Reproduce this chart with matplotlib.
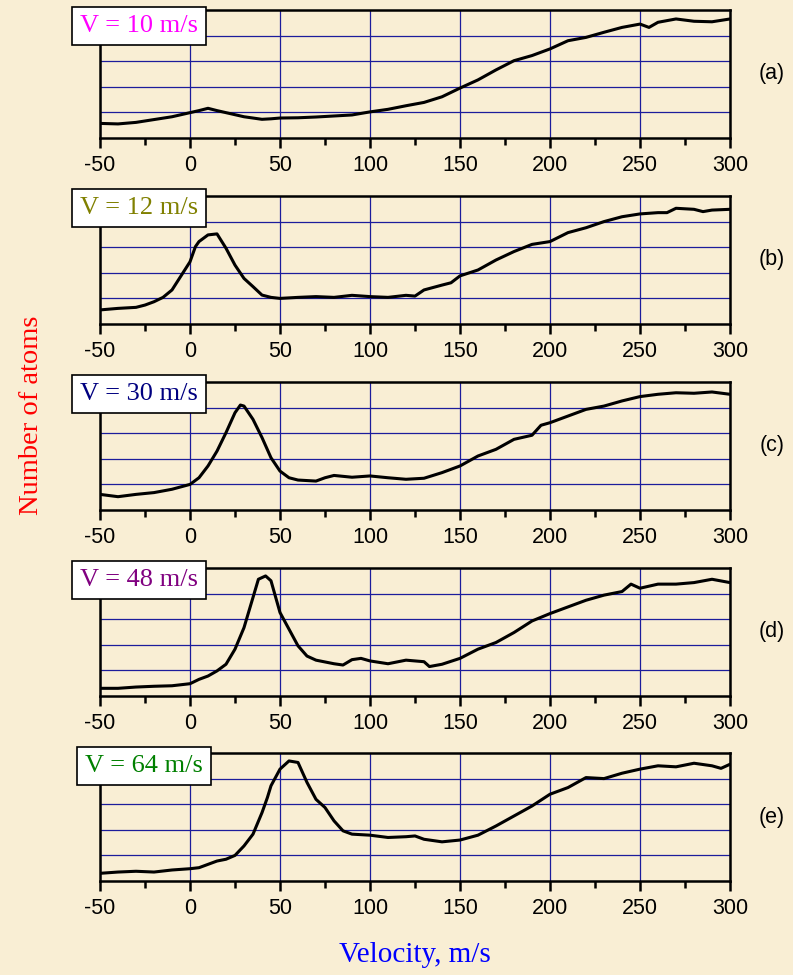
import matplotlib
matplotlib.use("Agg")
import matplotlib.pyplot as plt
import numpy as np

# velocity (m/s) and signal (grid units, 0..5)
v_a = [-50, -40, -30, -20, -10, 0, 5, 10, 15, 20, 30, 40, 45, 50, 60, 70, 80, 90, 100,
       110, 120, 130, 140, 150, 160, 170, 180, 190, 200, 210, 220, 230, 240, 250, 255,
       260, 270, 280, 290, 300]
y_a = [0.57, 0.55, 0.61, 0.72, 0.83, 0.99, 1.07, 1.16, 1.07, 0.99, 0.83, 0.73, 0.75, 0.78,
       0.79, 0.82, 0.86, 0.90, 1.02, 1.12, 1.26, 1.39, 1.61, 1.95, 2.27, 2.66, 3.02, 3.22,
       3.48, 3.80, 3.93, 4.13, 4.32, 4.45, 4.32, 4.52, 4.65, 4.56, 4.54, 4.65]

v_b = [-50, -40, -30, -25, -20, -15, -10, -5, 0, 3, 5, 10, 15, 20, 25, 30, 35, 40, 45, 50,
       60, 70, 80, 90, 100, 110, 120, 125, 130, 140, 145, 150, 160, 170, 180, 190, 200,
       210, 220, 230, 240, 250, 260, 265, 270, 280, 285, 290, 300]
y_b = [0.55, 0.61, 0.65, 0.74, 0.87, 1.04, 1.33, 1.88, 2.43, 3.02, 3.22, 3.48, 3.52, 2.96,
       2.30, 1.78, 1.46, 1.13, 1.04, 1.00, 1.04, 1.07, 1.04, 1.12, 1.07, 1.04, 1.12, 1.09,
       1.33, 1.52, 1.61, 1.88, 2.11, 2.50, 2.83, 3.11, 3.22, 3.57, 3.76, 4.00, 4.19, 4.30,
       4.35, 4.35, 4.52, 4.48, 4.39, 4.45, 4.48]

v_c = [-50, -40, -30, -20, -10, 0, 5, 10, 15, 20, 25, 28, 30, 35, 40, 45, 50, 55, 60, 70,
       75, 80, 90, 100, 110, 120, 130, 140, 150, 160, 170, 180, 190, 195, 200, 210, 220,
       230, 240, 250, 260, 270, 280, 290, 300]
y_c = [0.61, 0.52, 0.61, 0.68, 0.81, 1.00, 1.26, 1.72, 2.30, 3.02, 3.80, 4.10, 4.06, 3.54,
       2.83, 2.04, 1.52, 1.26, 1.17, 1.13, 1.26, 1.35, 1.28, 1.33, 1.26, 1.20, 1.24, 1.46,
       1.72, 2.11, 2.37, 2.76, 2.92, 3.31, 3.41, 3.67, 3.93, 4.06, 4.26, 4.43, 4.52, 4.58,
       4.56, 4.61, 4.52]

v_d = [-50, -40, -30, -20, -10, 0, 5, 10, 15, 20, 25, 30, 35, 38, 42, 45, 50, 55, 60, 65,
       70, 80, 85, 90, 95, 100, 110, 120, 130, 133, 140, 150, 160, 170, 180, 190, 200,
       210, 220, 230, 240, 245, 250, 260, 270, 280, 290, 300]
y_d = [0.30, 0.30, 0.35, 0.38, 0.40, 0.48, 0.65, 0.78, 0.98, 1.24, 1.83, 2.67, 3.85, 4.56,
       4.69, 4.50, 3.26, 2.61, 1.96, 1.56, 1.40, 1.26, 1.21, 1.42, 1.47, 1.37, 1.26, 1.40,
       1.34, 1.15, 1.24, 1.47, 1.83, 2.09, 2.48, 2.93, 3.22, 3.48, 3.74, 3.94, 4.08, 4.37,
       4.21, 4.37, 4.37, 4.43, 4.56, 4.43]

v_e = [-50, -40, -30, -20, -10, 0, 5, 10, 15, 20, 25, 30, 35, 40, 43, 45, 50, 55, 60, 65,
       70, 75, 80, 85, 90, 100, 110, 120, 125, 130, 140, 150, 160, 170, 180, 190, 200,
       210, 220, 230, 240, 250, 260, 270, 280, 290, 295, 300]
y_e = [0.30, 0.35, 0.38, 0.35, 0.43, 0.48, 0.52, 0.65, 0.78, 0.85, 1.00, 1.37, 1.83, 2.67,
       3.26, 3.72, 4.37, 4.69, 4.63, 3.85, 3.19, 2.87, 2.35, 1.96, 1.83, 1.79, 1.70, 1.73,
       1.76, 1.63, 1.53, 1.60, 1.79, 2.15, 2.54, 2.93, 3.39, 3.65, 4.04, 4.00, 4.21, 4.37,
       4.50, 4.46, 4.60, 4.50, 4.40, 4.56]

speeds = ["V = 10 m/s", "V = 12 m/s", "V = 30 m/s", "V = 48 m/s", "V = 64 m/s"]
speed_colors = ["#ff00ff", "#808000", "#000080", "#800080", "#008000"]
panel_tags = ["(a)", "(b)", "(c)", "(d)", "(e)"]
tick_vals = [-50, 0, 50, 100, 150, 200, 250, 300]

series = [(v_a, y_a), (v_b, y_b), (v_c, y_c), (v_d, y_d), (v_e, y_e)]

W, H = 793, 975
bg = "#f9eed4"
fig = plt.figure(figsize=(W / 100, H / 100), dpi=100, facecolor=bg)

tops = [10, 196, 382, 568, 753]
box_dy = [16, 12, 12, 12, 13]
box_x = [139, 139, 139, 139, 144]
ax_h = 128
x0, x1 = 100, 730
serif = ["Liberation Serif", "DejaVu Serif"]
sans = ["Liberation Sans", "DejaVu Sans"]

for i, (vv, yy) in enumerate(series):
    top = tops[i]
    ax = fig.add_axes([x0 / W, 1 - (top + ax_h) / H, (x1 - x0) / W, ax_h / H])
    ax.set_facecolor("none")
    ax.set_xlim(-50, 300)
    ax.set_ylim(0, 5)
    ax.set_xticks(tick_vals)
    ax.set_xticks(np.arange(-25, 300, 50), minor=True)
    ax.set_xticklabels([str(t) for t in tick_vals], fontfamily=sans, fontsize=15.5)
    ax.set_yticks([1, 2, 3, 4])
    ax.tick_params(axis="y", left=False, labelleft=False)
    ax.tick_params(axis="x", which="major", direction="out", length=7, width=1.8, pad=5)
    ax.tick_params(axis="x", which="minor", direction="out", length=5, width=1.8)
    ax.grid(True, which="major", color="#1c1c9c", linewidth=0.9)
    for s in ax.spines.values():
        s.set_color("black")
        s.set_linewidth(1.8)
    ax.plot(vv, yy, color="black", linewidth=2.2, solid_joinstyle="round")

    # speed label box
    fig.text(box_x[i] / W, 1 - (top + box_dy[i]) / H, speeds[i], color=speed_colors[i],
             fontfamily=serif, fontsize=19, ha="center", va="center",
             bbox=dict(boxstyle="square,pad=0.3", facecolor="white",
                       edgecolor="black", linewidth=1.2))
    fig.text(772 / W, 1 - (top + 64) / H, panel_tags[i], fontfamily=sans,
             fontsize=15.5, ha="center", va="center")

fig.text(32 / W, 1 - 415 / H, "Number of atoms", color="red", fontfamily=serif,
         fontsize=20.5, rotation=90, ha="center", va="center")
fig.text(415 / W, 1 - 955 / H, "Velocity, m/s", color="blue", fontfamily=serif,
         fontsize=21, ha="center", va="center")

fig.savefig("out.png", dpi=100, facecolor=bg)
